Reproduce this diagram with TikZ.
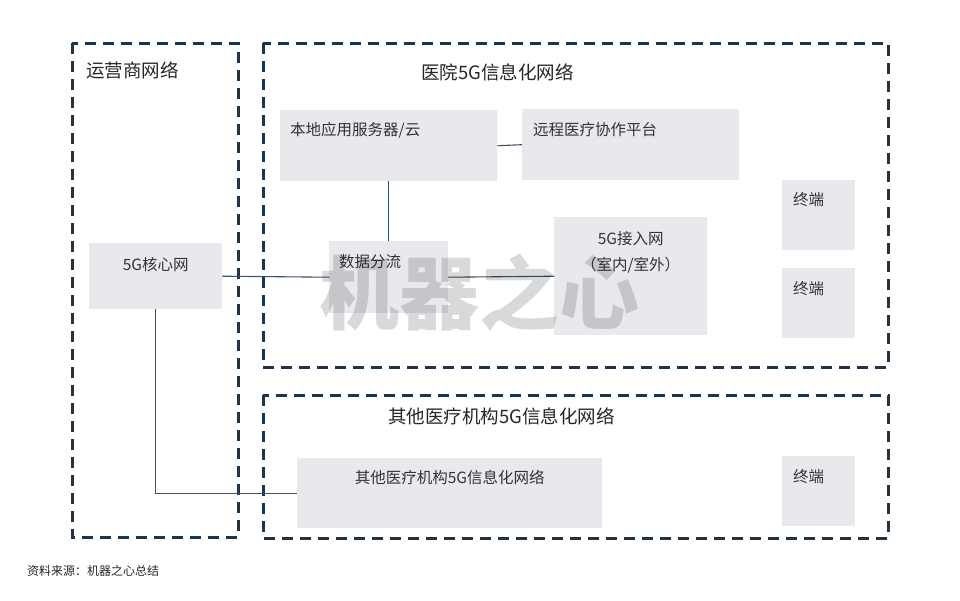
\documentclass[tikz,border=0pt]{standalone}
\usepackage{fontspec}
\setmainfont{Noto Sans CJK SC}
\usetikzlibrary{positioning}
\definecolor{dashnavy}{HTML}{1F3449}
\definecolor{boxgray}{HTML}{E7E9ED}
\definecolor{linkgray}{HTML}{3E5266}

\begin{document}
\begin{tikzpicture}[x=1pt,y=-1pt,
	zone/.style={draw=dashnavy, line width=3pt, dash pattern=on 11pt off 7pt},
	cell/.style={fill=boxgray, draw=none, anchor=north west, inner sep=0pt},
	txt/.style={font=\fontsize{15.5}{18}\selectfont, text=black!80, inner sep=0pt},
	ttl/.style={font=\fontsize{18.5}{21}\selectfont, text=black!85, inner sep=0pt, anchor=west},
	link/.style={draw=linkgray, line width=1.1pt}]
			\useasboundingbox (0,0) rectangle (960,600);
			%zones
			\draw[zone] (72,43) rectangle (238,537);
			\draw[zone] (263,43) rectangle (888,367);
			\draw[zone] (263,395) rectangle (888,538);
			\node[ttl](op) at (86,70){运营商网络};
			\node[ttl](hosp) at (421,72){医院5G信息化网络};
			\node[ttl](oth) at (388,416){其他医疗机构5G信息化网络};
			%boxes
			\node[cell, minimum width=217pt, minimum height=71pt](srv) at (280,110){};
			\node[cell, minimum width=217pt, minimum height=71pt](remote) at (522,109){};
			\node[cell, minimum width=119pt, minimum height=72pt](split) at (329,241){};
			\node[cell, minimum width=153pt, minimum height=118pt](access) at (554,217){};
			\node[cell, minimum width=133pt, minimum height=66pt](core) at (89,243){};
			\node[cell, minimum width=305pt, minimum height=70pt](other) at (297,458){};
			\node[cell, minimum width=73pt, minimum height=70pt](ta) at (782,180){};
			\node[cell, minimum width=73pt, minimum height=70pt](tb) at (782,268){};
			\node[cell, minimum width=73pt, minimum height=70pt](tc) at (782,456){};
			%box texts
			\node[txt, anchor=west](srv-t) at ([shift={(10,20)}]srv.north west){本地应用服务器/云};
			\node[txt, anchor=west](remote-t) at ([shift={(11,21)}]remote.north west){远程医疗协作平台};
			\node[txt, anchor=west](split-t) at ([shift={(10,21)}]split.north west){数据分流};
			\node[txt](access-a) at ([shift={(0,22)}]access.north){5G接入网};
			\node[txt](access-b) at ([shift={(0,48)}]access.north){（室内/室外）};
			\node[txt](core-t) at ([shift={(0,22)}]core.north){5G核心网};
			\node[txt](other-t) at ([shift={(0,20)}]other.north){其他医疗机构5G信息化网络};
			\node[txt, anchor=west](ta-t) at ([shift={(11,20)}]ta.north west){终端};
			\node[txt, anchor=west](tb-t) at ([shift={(11,21)}]tb.north west){终端};
			\node[txt, anchor=west](tc-t) at ([shift={(11,21)}]tc.north west){终端};
			%links
			\draw[link] (srv.east) -- (remote.west);
			\draw[link] (srv.south) -- (split.north);
			\draw[link] (core.east) -- (split.west);
			\draw[link] (split.east) -- (access.west);
			\draw[link] (core.south) |- (other.west);
			%watermark
			\node[font=\fontsize{80}{80}\selectfont\bfseries, text=black, opacity=0.15, inner sep=0pt](wm) at (479,293){机器之心};
			%source
			\node[font=\fontsize{12}{14}\selectfont, text=black!85, inner sep=0pt, anchor=west](src) at (27,571){资料来源：机器之心总结};
\end{tikzpicture}
\end{document}
